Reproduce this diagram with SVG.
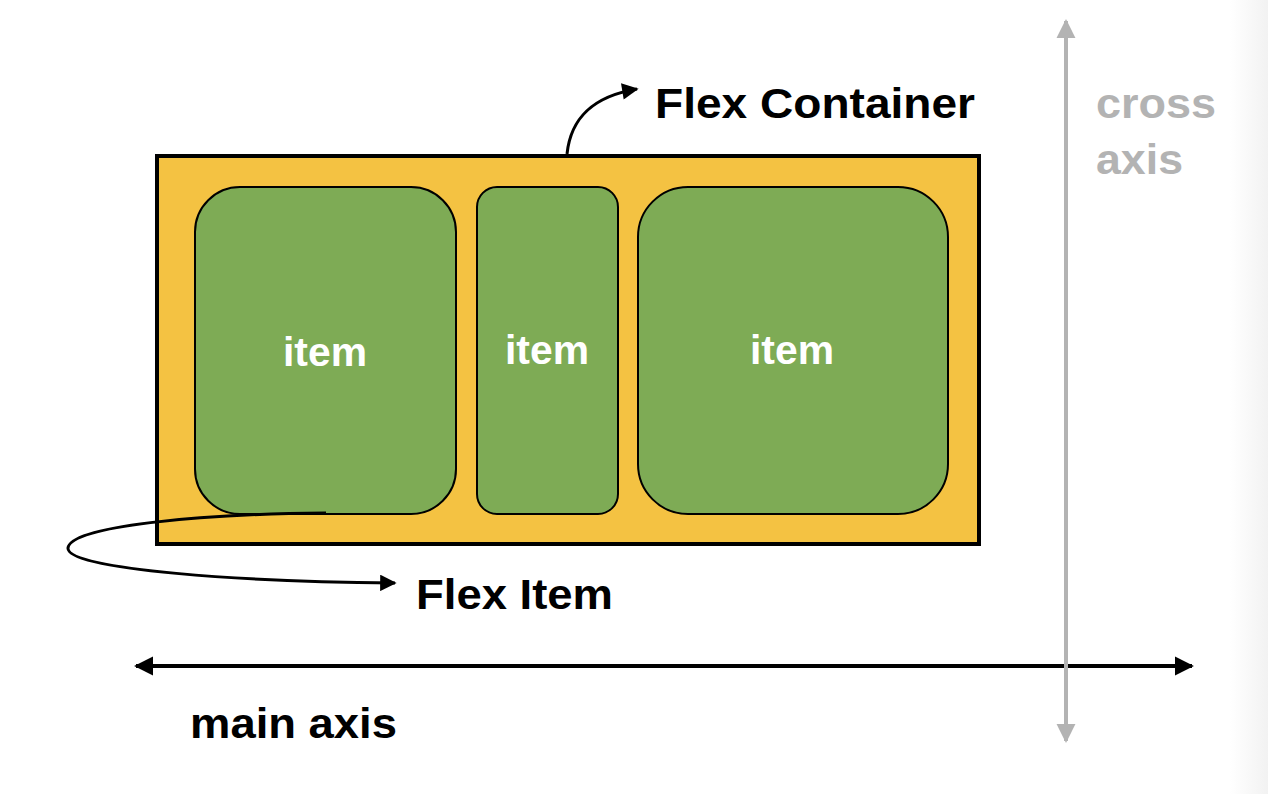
<svg xmlns="http://www.w3.org/2000/svg" width="1268" height="794" viewBox="0 0 1268 794">
<defs>
<style>
.lbl{font-family:"Liberation Sans",Arial,sans-serif;font-weight:bold;font-size:43px}
.item{fill:#7eab55;stroke:#000;stroke-width:2}
.itxt{font-family:"Liberation Sans",Arial,sans-serif;font-weight:bold;font-size:40px;fill:#fff;text-anchor:middle}
</style>
<marker id="ah" viewBox="0 0 10 10" refX="9" refY="5" markerWidth="4.8" markerHeight="4.8" orient="auto-start-reverse" markerUnits="strokeWidth"><path d="M0,0 L10,5 L0,10 z" fill="#000"/></marker>
<marker id="ahg" viewBox="0 0 10 10" refX="9" refY="5" markerWidth="4.8" markerHeight="4.8" orient="auto-start-reverse" markerUnits="strokeWidth"><path d="M0,0 L10,5 L0,10 z" fill="#b3b3b3"/></marker>
<marker id="ahs" viewBox="0 0 10 10" refX="9" refY="5" markerWidth="6.5" markerHeight="5.5" orient="auto" markerUnits="strokeWidth"><path d="M0,0 L10,5 L0,10 z" fill="#000"/></marker>
<linearGradient id="edge" x1="0" x2="1" y1="0" y2="0"><stop offset="0" stop-color="#fff"/><stop offset="1" stop-color="#f2f2f2"/></linearGradient>
</defs>
<rect width="1268" height="794" fill="#fff"/>
<rect x="1230" y="0" width="38" height="794" fill="url(#edge)"/>
<g id="container">
<rect x="157" y="156" width="822" height="388" fill="#f4c242" stroke="#000" stroke-width="4"/>
</g>
<g id="item1"><rect class="item" x="195" y="187" width="261" height="327" rx="45"/><text class="itxt" x="325" y="366" textLength="84" lengthAdjust="spacingAndGlyphs">item</text></g>
<g id="item2"><rect class="item" x="477" y="187" width="141" height="327" rx="20"/><text class="itxt" x="547" y="364" textLength="84" lengthAdjust="spacingAndGlyphs">item</text></g>
<g id="item3"><rect class="item" x="638" y="187" width="310" height="327" rx="50"/><text class="itxt" x="792" y="364" textLength="84" lengthAdjust="spacingAndGlyphs">item</text></g>
<g id="connectors" fill="none">
<path d="M567,154 C571,116 595,96 637,89" stroke="#000" stroke-width="3" marker-end="url(#ahs)"/>
<path d="M326,513 C200,514 70,526 68,548 C66,570 250,582 395,583" stroke="#000" stroke-width="3" marker-end="url(#ahs)"/>
<line x1="136" y1="666" x2="1192" y2="666" stroke="#000" stroke-width="4" marker-start="url(#ah)" marker-end="url(#ah)"/>
<line x1="1066" y1="21" x2="1066" y2="741" stroke="#b3b3b3" stroke-width="4" marker-start="url(#ahg)" marker-end="url(#ahg)"/>
</g>
<g id="labels">
<text class="lbl" x="655" y="118" textLength="320" lengthAdjust="spacingAndGlyphs">Flex Container</text>
<text class="lbl" x="416" y="609" textLength="197" lengthAdjust="spacingAndGlyphs">Flex Item</text>
<text class="lbl" x="190" y="738" textLength="207" lengthAdjust="spacingAndGlyphs">main axis</text>
<text class="lbl" x="1096" y="118" fill="#b3b3b3" textLength="120" lengthAdjust="spacingAndGlyphs">cross</text>
<text class="lbl" x="1096" y="174" fill="#b3b3b3" textLength="87" lengthAdjust="spacingAndGlyphs">axis</text>
</g>
</svg>
